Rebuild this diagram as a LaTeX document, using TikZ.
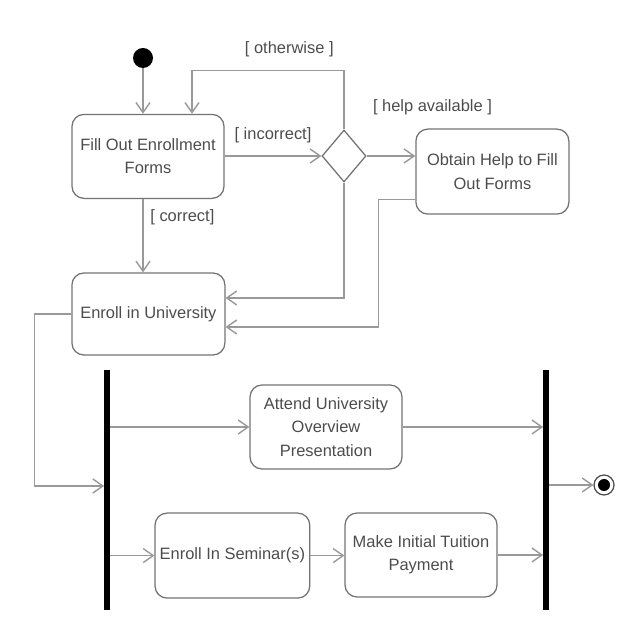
\documentclass[tikz,border=0pt]{standalone}
\usepackage{fontspec}
\setmainfont{Liberation Sans}
\usetikzlibrary{arrows.meta,shapes.geometric}
\tikzset{
  act/.style={draw=black!55, line width=0.9pt, rounded corners=0.3cm, minimum width=3.8cm, minimum height=2.1cm, align=center, text=black!70, font=\fontsize{11.7}{16.5}\selectfont},
  flow/.style={draw=black!40, line width=1pt, -{Straight Barb[length=0.25cm,width=0.35cm]}},
  bar/.style={fill=black, minimum width=0.13cm, minimum height=6cm, inner sep=0},
  guard/.style={text=black!70, font=\fontsize{11.7}{14}\selectfont}
}
\begin{document}
\begin{tikzpicture}
    \useasboundingbox (0,0) rectangle (16,16);
    \node [circle, fill=black, minimum size=0.5cm, inner sep=0] (start) at (3.575,14.55) {};
    \node [act] (fill) at (3.7,12.09) {Fill Out Enrollment\\Forms};
    \node [draw=black!55, line width=0.9pt, diamond, minimum width=1.1cm, minimum height=1.3cm, inner sep=0] (dia) at (8.6,12.1) {};
    \node [act, minimum width=3.825cm, minimum height=2.125cm] (obtain) at (12.31,11.71) {Obtain Help to Fill\\Out Forms};
    \node [act, minimum width=3.825cm, minimum height=2.05cm] (enroll) at (3.71,8.15) {Enroll in University};
    \node [bar] (fork) at (2.675,3.75) {};
    \node [bar] (join) at (13.65,3.75) {};
    \node [act] (attend) at (8.15,5.325) {Attend University\\Overview\\Presentation};
    \node [act, minimum width=3.775cm, minimum height=2.125cm] (seminar) at (5.81,2.11) {Enroll In Seminar(s)};
    \node [act] (payment) at (10.525,2.125) {Make Initial Tuition\\Payment};
    \node [circle, draw=black!70, line width=0.9pt, minimum size=0.5cm, inner sep=0] (final) at (15.1,3.875) {};
    \fill (final) circle (0.15);
    \draw [flow] (start) -- (fill.north -| start);
    \draw [flow] (dia.north) -- ++(0,1.475) -| ([xshift=1.1cm]fill.north) node [guard, pos=0.18, above=0.2cm] {[ otherwise ]};
    \draw [flow] (fill.east |- dia) -- (dia.west) node [guard, midway, above=0.2cm] {[ incorrect]};
    \draw [flow] (dia.east) -- (dia.east -| obtain.west) node [guard, above=0.9cm, xshift=0.43cm] {[ help available ]};
    \draw [flow] (dia.south) |- ([yshift=0.4cm]enroll.east);
    \draw [flow] ([yshift=-0.7cm]obtain.west) -- ++(-0.925,0) |- ([yshift=-0.325cm]enroll.east);
    \draw [flow] (fill.south -| start) -- (enroll.north -| start) node [guard, pos=0.25, right=0.05cm] {[ correct]};
    \draw [flow] (enroll.west) -- ++(-0.925,0) |- ([yshift=0.1cm]fork.west);
    \draw [flow] (fork.east |- attend) -- (attend.west);
    \draw [flow] (attend.east) -- (attend.east -| join.west);
    \draw [flow] (fork.east |- seminar) -- (seminar.west);
    \draw [flow] (seminar.east) -- (seminar.east -| payment.west);
    \draw [flow] (payment.east) -- (payment.east -| join.west);
    \draw [flow] (join.east |- final) -- (final.west);
\end{tikzpicture}
\end{document}
